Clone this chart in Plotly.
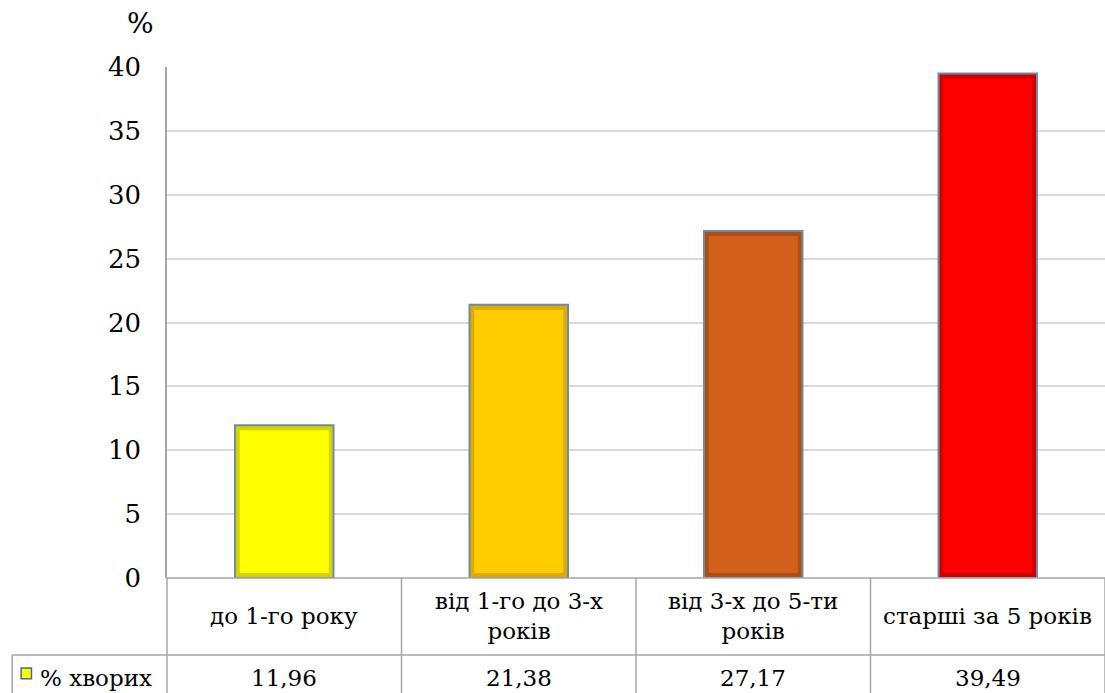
import plotly.graph_objects as go

# Age groups and share of patients (%)
categories = ["до 1-го року", "від 1-го до 3-х років", "від 3-х до 5-ти років", "старші за 5 років"]
category_lines = ["до 1-го року", "від 1-го до 3-х<br>років", "від 3-х до 5-ти<br>років", "старші за 5 років"]
values = [11.96, 21.38, 27.17, 39.49]
value_labels = ["11,96", "21,38", "27,17", "39,49"]
series_name = "% хворих"
y_ticks = [0, 5, 10, 15, 20, 25, 30, 35, 40]

fill_colors = ["#FFFF00", "#FFCC00", "#D2601A", "#FF0000"]
edge_colors = ["#D4D400", "#E0AA00", "#AE4E12", "#D00000"]

FONT = "DejaVu Serif"
GRID = "#D9D9D9"
TABLE_LINE = "#A6A6A6"

fig = go.Figure()

# Outer bar (darker bevel edge)
fig.add_trace(go.Bar(
    x=categories, y=values, width=0.42,
    marker=dict(color=edge_colors, line=dict(color="#6E8BA8", width=2)),
    showlegend=False, hoverinfo="skip",
))
# Inner face of the bar
fig.add_trace(go.Bar(
    x=categories, y=[v - 0.8 for v in values], base=0.4, width=0.38,
    marker=dict(color=fill_colors, line=dict(width=0)),
    name=series_name, showlegend=False,
))

fig.update_layout(
    width=1105, height=693,
    margin=dict(l=167, r=0, t=67, b=115),
    paper_bgcolor="white", plot_bgcolor="white",
    barmode="overlay",
    font=dict(family=FONT, color="black"),
    xaxis=dict(
        type="category", showticklabels=False, showgrid=False,
        showline=False, zeroline=False, range=[-0.5, 3.5],
    ),
    yaxis=dict(
        range=[0, 40], tickvals=y_ticks, ticks="", ticklen=0,
        ticklabelstandoff=19,
        tickfont=dict(size=26, family=FONT, color="black"),
        showgrid=True, gridcolor=GRID, gridwidth=1.5,
        showline=True, linecolor=TABLE_LINE, linewidth=1.5,
        zeroline=False,
    ),
)

shapes = []
line = dict(color=TABLE_LINE, width=1.5)
row1_bottom = -0.1507
row2_bottom = -0.23
legend_left = -0.165

# Horizontal lines of the data table
shapes.append(dict(type="line", xref="paper", yref="paper", x0=0, x1=1, y0=0, y1=0, line=line))
shapes.append(dict(type="line", xref="paper", yref="paper", x0=legend_left, x1=1,
                   y0=row1_bottom, y1=row1_bottom, line=line))
# Vertical lines: left edge, category boundaries
shapes.append(dict(type="line", xref="paper", yref="paper", x0=0, x1=0, y0=0, y1=row2_bottom, line=line))
shapes.append(dict(type="line", xref="paper", yref="paper", x0=legend_left, x1=legend_left,
                   y0=row1_bottom, y1=row2_bottom, line=line))
for i in range(1, len(categories)):
    shapes.append(dict(type="line", xref="x", yref="paper", x0=i - 0.5, x1=i - 0.5,
                       y0=0, y1=row2_bottom, line=line))
shapes.append(dict(type="line", xref="paper", yref="paper", x0=1, x1=1, y0=0, y1=row2_bottom, line=line))

# Legend key in the table
shapes.append(dict(type="rect", xref="paper", yref="paper",
                   x0=-0.1555, x1=-0.1445, y0=-0.176, y1=-0.197,
                   fillcolor=fill_colors[0], line=dict(color="#4F6A86", width=1.5)))
fig.update_layout(shapes=shapes)

annotations = []
for cat, lab, val in zip(categories, category_lines, value_labels):
    annotations.append(dict(x=cat, xref="x", y=-0.0748, yref="paper", text=lab,
                            showarrow=False, font=dict(size=23, family=FONT, color="black"),
                            align="center", yanchor="middle"))
    annotations.append(dict(x=cat, xref="x", y=-0.195, yref="paper", text=val,
                            showarrow=False, font=dict(size=23, family=FONT, color="black"),
                            yanchor="middle"))
annotations.append(dict(x=-0.138, xref="paper", y=-0.195, yref="paper", text=series_name,
                        showarrow=False, xanchor="left", yanchor="middle",
                        font=dict(size=23, family=FONT, color="black")))
annotations.append(dict(x=-0.012, xref="paper", y=1.048, yref="paper", text="%",
                        showarrow=False, xanchor="right", yanchor="bottom",
                        font=dict(size=28, family=FONT, color="black")))
fig.update_layout(annotations=annotations)

fig.write_html("out.html")
